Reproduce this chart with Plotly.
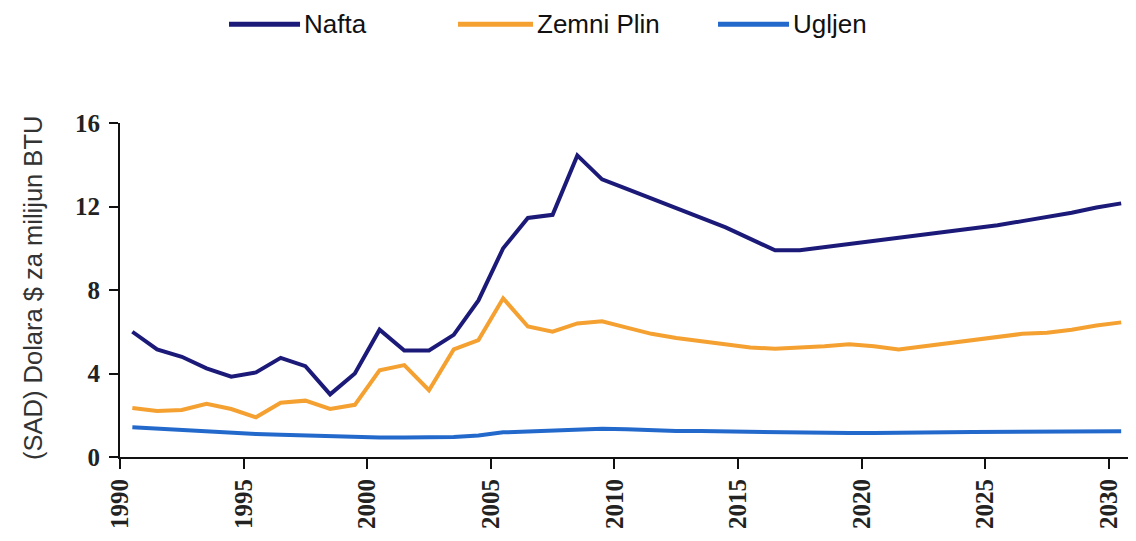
import plotly.graph_objects as go

years = list(range(1990, 2031))

nafta = [6.0, 5.15, 4.8, 4.25, 3.85, 4.05, 4.75, 4.35, 3.0, 4.0,
         6.1, 5.1, 5.1, 5.85, 7.5, 10.0, 11.45, 11.6, 14.45, 13.3,
         12.85, 12.4, 11.95, 11.5, 11.0, 10.45, 9.9, 9.9, 10.05, 10.2,
         10.35, 10.5, 10.65, 10.8, 10.95, 11.1, 11.3, 11.5, 11.7, 11.95, 12.15]

zemni_plin = [2.35, 2.2, 2.25, 2.55, 2.3, 1.9, 2.6, 2.7, 2.3, 2.5,
              4.15, 4.4, 3.2, 5.15, 5.6, 7.6, 6.25, 6.0, 6.4, 6.5,
              6.2, 5.9, 5.7, 5.55, 5.4, 5.25, 5.18, 5.22, 5.3, 5.4,
              5.3, 5.15, 5.3, 5.45, 5.6, 5.75, 5.9, 5.95, 6.1, 6.3, 6.45]

ugljen = [1.42, 1.35, 1.28, 1.2, 1.15, 1.1, 1.06, 1.02, 0.98, 0.95,
          0.93, 0.94, 0.96, 0.96, 1.03, 1.18, 1.22, 1.27, 1.32, 1.35,
          1.33, 1.28, 1.25, 1.24, 1.22, 1.2, 1.18, 1.16, 1.15, 1.15,
          1.15, 1.15, 1.16, 1.18, 1.2, 1.2, 1.2, 1.22, 1.22, 1.22, 1.23]

series_names = ["Nafta", "Zemni Plin", "Ugljen"]
series_values = [nafta, zemni_plin, ugljen]
series_colors = ["#1c1a78", "#f4a132", "#2369cc"]

y_ticks = [0, 4, 8, 12, 16]
x_ticks = list(range(1990, 2031, 5))
y_title = "(SAD) Dolara $ za milijun BTU"

# values are mid-year averages
x_mid = [y + 0.5 for y in years]

fig = go.Figure()
for name, vals, col in zip(series_names, series_values, series_colors):
    fig.add_trace(go.Scatter(x=x_mid, y=vals, mode="lines", name=name,
                             line=dict(color=col, width=4), showlegend=False))

# manual legend (decoration)
leg_y = 1.296
leg_items = [(0.1073, 0.1772), (0.3327, 0.4065), (0.5886, 0.6585)]
for (x0, x1), name, col in zip(leg_items, series_names, series_colors):
    fig.add_shape(type="line", xref="paper", yref="paper", x0=x0, x1=x1,
                  y0=leg_y, y1=leg_y, line=dict(color=col, width=5))
    fig.add_annotation(xref="paper", yref="paper", x=x1 + 0.002, y=leg_y,
                       text=name, showarrow=False, xanchor="left", yanchor="middle",
                       font=dict(family="Liberation Sans", size=26, color="#111"))

fig.add_annotation(xref="paper", yref="paper", x=-0.085, y=0.505, text=y_title,
                   textangle=-90, showarrow=False, xanchor="center", yanchor="middle",
                   font=dict(family="Liberation Sans", size=25.5, color="#333"))

fig.update_layout(
    width=1136, height=541,
    margin=dict(l=112, r=8, t=115, b=92),
    paper_bgcolor="white", plot_bgcolor="white",
    xaxis=dict(range=[1990, 2031.1], tickvals=x_ticks, ticktext=[str(t) for t in x_ticks],
               tickangle=-90, showgrid=False, zeroline=False,
               showline=True, linecolor="#111", linewidth=2,
               ticks="outside", ticklen=10, tickwidth=2, tickcolor="#111",
               tickfont=dict(family="Liberation Serif", size=25, color="#222",
                             weight="bold")),
    yaxis=dict(range=[0, 16], tickvals=y_ticks, showgrid=False, zeroline=False,
               showline=True, linecolor="#111", linewidth=2,
               ticks="outside", ticklen=9, tickwidth=2, tickcolor="#111",
               ticklabelstandoff=4,
               tickfont=dict(family="Liberation Serif", size=25, color="#222",
                             weight="bold")),
)

fig.write_html("out.html")
